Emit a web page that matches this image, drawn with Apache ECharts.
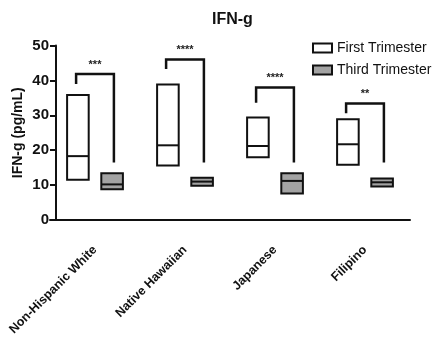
<!DOCTYPE html>
<html>
<head>
    <meta charset="utf-8">
    <script src="https://cdn.jsdelivr.net/npm/echarts@6/dist/echarts.min.js"></script>
    <title>IFN-g</title>
</head>
<body style="margin:0">
    <div id="container" style="width:432px;height:343px;"></div>
    <script>
    // categories
    var groups = ['Non-Hispanic White', 'Native Hawaiian', 'Japanese', 'Filipino'];
    // [low, median, high] floating bars
    var firstTri = [[11.5, 18.3, 35.8], [15.6, 21.4, 38.8], [18.0, 21.2, 29.4], [15.8, 21.7, 28.9]];
    var thirdTri = [[8.8, 10.2, 13.4], [9.8, 11.0, 12.1], [7.6, 11.2, 13.4], [9.6, 10.8, 11.9]];
    // significance brackets: [leftLegBottom, top, rightLegBottom]
    var brackets = [[39.0, 41.8, 16.5], [43.3, 46.0, 16.5], [33.6, 38.0, 16.5], [30.6, 33.4, 16.5]];
    var stars = ['***', '****', '****', '**'];
    var yTicks = [0, 10, 20, 30, 40, 50];

    var myChart = echarts.init(document.getElementById('container'));

    function boxData(arr) {
        return arr.map(function (d, i) { return [i, d[0], d[1], d[2]]; });
    }

    function boxRenderer(side, fill) {
        return function (params, api) {
            var c = api.value(0);
            var lo = api.coord([c, api.value(1)]);
            var med = api.coord([c, api.value(2)]);
            var hi = api.coord([c, api.value(3)]);
            var band = api.size([1, 0])[0];
            var cx = lo[0] + side * band * 0.19;
            var w = band * 0.24;
            return {
                type: 'group',
                children: [{
                    type: 'rect',
                    shape: { x: cx - w / 2, y: hi[1], width: w, height: lo[1] - hi[1] },
                    style: { fill: fill, stroke: '#111', lineWidth: 2 }
                }, {
                    type: 'line',
                    shape: { x1: cx - w / 2, y1: med[1], x2: cx + w / 2, y2: med[1] },
                    style: { stroke: '#111', lineWidth: 2 }
                }]
            };
        };
    }

    var option = {
        animation: false,
        title: {
            text: 'IFN-g',
            left: 207,
            top: 7,
            textStyle: { fontFamily: 'Liberation Sans', fontSize: 16, fontWeight: 'bold', color: '#111' }
        },
        legend: {
            orient: 'vertical',
            left: 307,
            top: 36,
            itemWidth: 19,
            itemHeight: 9,
            itemGap: 8,
            textStyle: { fontFamily: 'Liberation Sans', fontSize: 14, color: '#111' },
            data: [
                { name: 'First Trimester', icon: 'rect', itemStyle: { color: '#fff', borderColor: '#111', borderWidth: 2 } },
                { name: 'Third Trimester', icon: 'rect', itemStyle: { color: '#a3a3a3', borderColor: '#111', borderWidth: 2 } }
            ]
        },
        grid: { left: 50, right: 22, top: 45.5, bottom: 123, outerBoundsMode: 'none' },
        xAxis: {
            type: 'category',
            data: groups,
            axisLine: { lineStyle: { color: '#111', width: 2 } },
            axisTick: { alignWithLabel: true, length: 8, lineStyle: { width: 2, color: '#111' } },
            axisLabel: {
                rotate: 45,
                margin: 28,
                fontFamily: 'Liberation Sans',
                fontSize: 12.5,
                fontWeight: 'bold',
                color: '#111'
            }
        },
        yAxis: {
            type: 'value',
            min: 0,
            max: 50,
            interval: 10,
            offset: -6,
            name: 'IFN-g (pg/mL)',
            nameLocation: 'middle',
            nameRotate: 90,
            nameGap: 31,
            nameMoveOverlap: false,
            nameTextStyle: { fontFamily: 'Liberation Sans', fontSize: 14, fontWeight: 'bold', color: '#111' },
            axisLine: { show: true, lineStyle: { color: '#111', width: 2 } },
            axisTick: { show: true, length: 6, lineStyle: { width: 2, color: '#111' } },
            axisLabel: {
                margin: 7,
                fontFamily: 'Liberation Sans',
                fontSize: 15,
                fontWeight: 'bold',
                color: '#111',
                formatter: function (v) { return yTicks.indexOf(v) >= 0 ? v : ''; }
            },
            splitLine: { show: false }
        },
        series: [{
            name: 'First Trimester',
            type: 'custom',
            renderItem: boxRenderer(-1, '#fff'),
            encode: { x: 0, y: [1, 2, 3] },
            data: boxData(firstTri)
        }, {
            name: 'Third Trimester',
            type: 'custom',
            renderItem: boxRenderer(1, '#a3a3a3'),
            encode: { x: 0, y: [1, 2, 3] },
            data: boxData(thirdTri)
        }, {
            name: 'brackets',
            type: 'custom',
            encode: { x: 0, y: [1, 2, 3] },
            data: brackets.map(function (b, i) { return [i, b[0], b[1], b[2]]; }),
            renderItem: function (params, api) {
                var c = api.value(0);
                var l = api.coord([c, api.value(1)]);
                var t = api.coord([c, api.value(2)]);
                var r = api.coord([c, api.value(3)]);
                var band = api.size([1, 0])[0];
                var xl = l[0] - band * 0.21;
                var xr = l[0] + band * 0.21;
                return {
                    type: 'group',
                    children: [{
                        type: 'polyline',
                        shape: { points: [[xl, l[1]], [xl, t[1]], [xr, t[1]], [xr, r[1]]] },
                        style: { fill: null, stroke: '#111', lineWidth: 2.5 }
                    }, {
                        type: 'text',
                        style: {
                            x: (xl + xr) / 2,
                            y: t[1] - 9,
                            text: stars[params.dataIndex],
                            align: 'center',
                            verticalAlign: 'middle',
                            font: 'bold 11px "Liberation Sans"',
                            fill: '#222'
                        }
                    }]
                };
            }
        }]
    };

    myChart.setOption(option);
    </script>
</body>
</html>
